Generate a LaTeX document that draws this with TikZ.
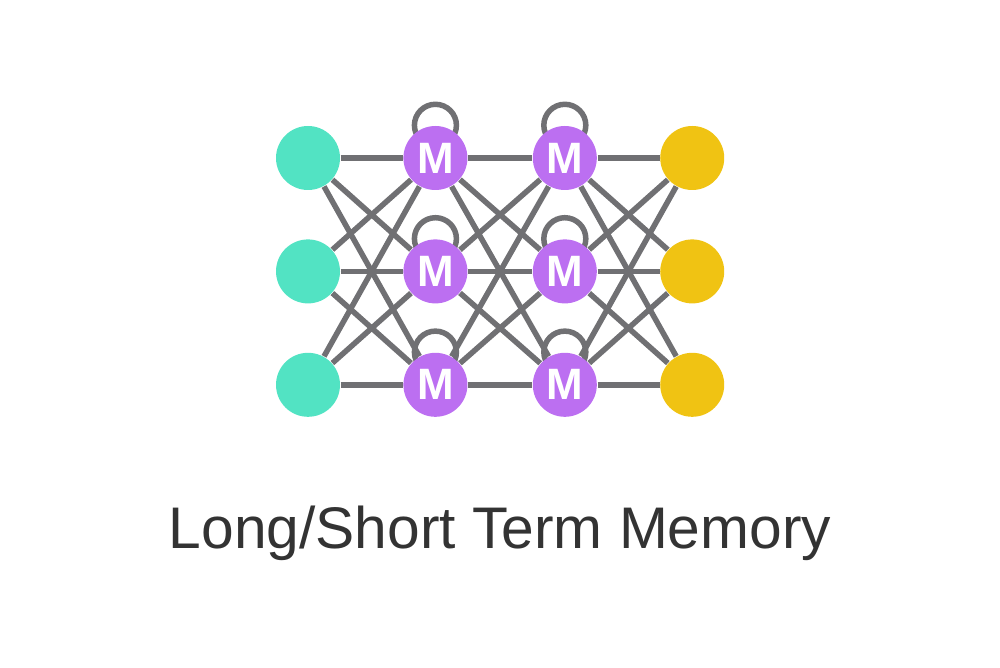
\documentclass[tikz,border=0pt]{standalone}
\usepackage{fontspec}
\setmainfont{Liberation Sans}
\usetikzlibrary{positioning,backgrounds}
\definecolor{inputteal}{HTML}{52E3C3}
\definecolor{memviolet}{HTML}{BC6FF1}
\definecolor{outgold}{HTML}{F0C313}
\definecolor{edgegray}{HTML}{707073}
\definecolor{titlegray}{HTML}{333333}
\begin{document}
\begin{tikzpicture}[node distance=4.8mm and 6.2mm,
  neuron/.style={circle,minimum size=6.4mm,inner sep=0pt},
  inp/.style={neuron,fill=inputteal},
  mem/.style={neuron,fill=memviolet,text=white,font=\bfseries\fontsize{12.5}{12.5}\selectfont},
  outp/.style={neuron,fill=outgold},
  link/.style={draw=edgegray,line width=0.55mm}]
  \useasboundingbox (0,0) rectangle (10,6.67);
  % input layer
  \node[inp] (i1) at (3.08,5.09) {};
  \node[inp,below=of i1] (i2) {};
  \node[inp,below=of i2] (i3) {};
  % memory layers
  \node[mem,right=of i1] (m1) {M};
  \node[mem,right=of i2] (m2) {M};
  \node[mem,right=of i3] (m3) {M};
  \node[mem,right=6.4mm of m1] (n1) {M};
  \node[mem,right=6.4mm of m2] (n2) {M};
  \node[mem,right=6.4mm of m3] (n3) {M};
  % output layer
  \node[outp,right=of n1] (o1) {};
  \node[outp,right=of n2] (o2) {};
  \node[outp,right=of n3] (o3) {};
  \node[font=\fontsize{16.7}{16.7}\selectfont,text=titlegray,anchor=base] (title) at (5,1.19) {Long/Short Term Memory};
  \begin{scope}[on background layer]
    \foreach \a in {1,2,3} \foreach \b in {1,2,3} {
      \draw[link] (i\a) -- (m\b); \draw[link] (m\a) -- (n\b); \draw[link] (n\a) -- (o\b);
    }
    \foreach \c in {m1,m2,m3,n1,n2,n3} \draw[link] (\c.north) circle[radius=2.1mm];
  \end{scope}
\end{tikzpicture}
\end{document}
